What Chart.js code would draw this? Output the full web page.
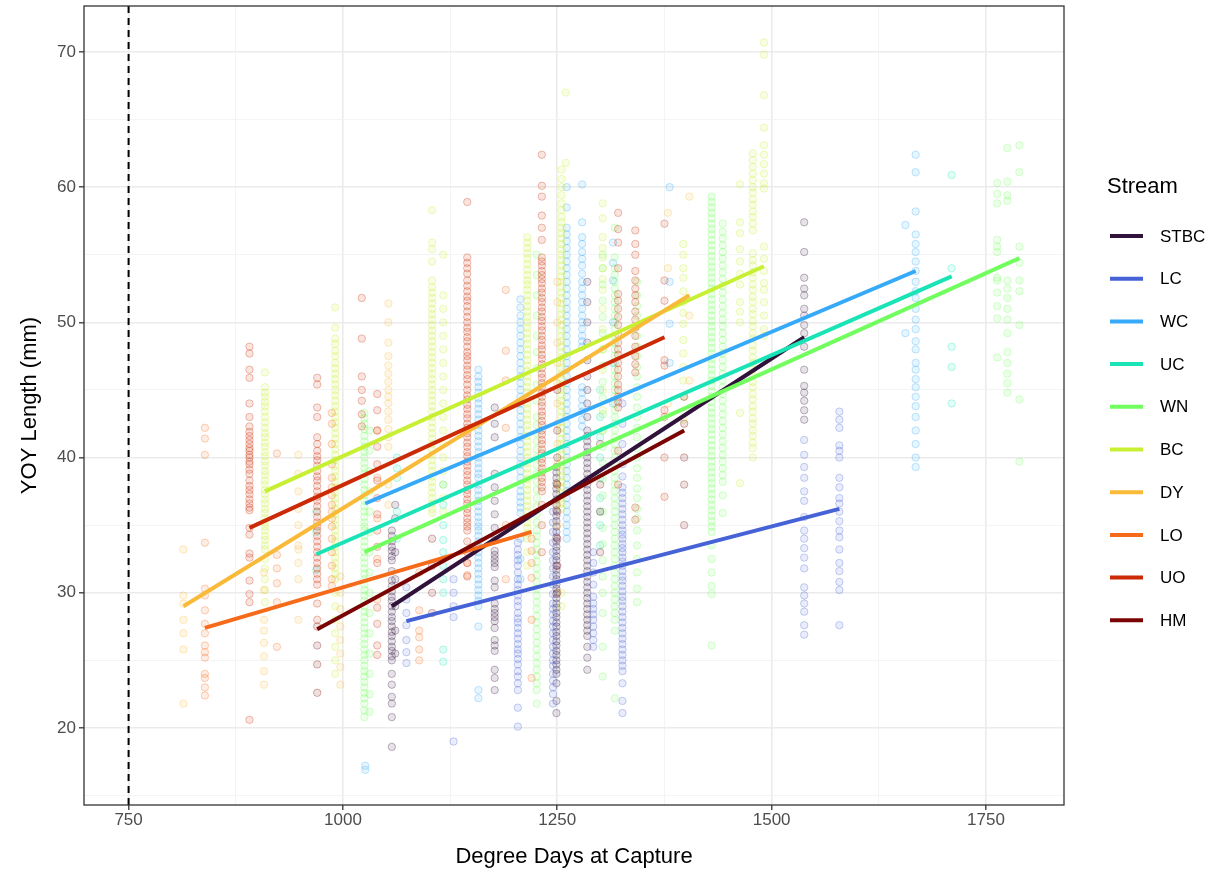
<!DOCTYPE html>
<html>
<head>
<meta charset="utf-8">
<title>YOY Length vs Degree Days</title>
<script src="https://cdn.jsdelivr.net/npm/chart.js@4.4.1/dist/chart.umd.min.js"></script>
<style>
  html, body { margin: 0; padding: 0; background: #ffffff; }
  #wrap { width: 1230px; height: 875px; }
</style>
</head>
<body>
<div id="wrap"><canvas id="chart" width="1230" height="875"></canvas></div>
<script>
// Streams in legend order and their turbo palette colours
const STREAMS = ['STBC', 'LC', 'WC', 'UC', 'WN', 'BC', 'DY', 'LO', 'UO', 'HM'];
const COLORS = ['#30123B', '#4662D7', '#36AAF9', '#1AE4B6', '#72FE5E', '#C7EF34', '#FABA39', '#F66B19', '#CB2A04', '#7A0403'];

// Fish lengths (mm) per sampling event: [degree days, [lengths...]]
const STBC = [
  [1057, [34.6, 34.2, 33.8, 33.4, 33.1, 32.7, 32.4, 31.6, 30.9, 30.5, 30.1, 29.7, 29.4, 29.0, 28.6, 28.2, 27.9, 27.5, 27.1, 26.8, 26.4, 26.0, 25.7, 25.3, 25.0, 24.0, 23.2, 22.3, 21.8, 20.8, 18.6]],
  [1061, [36.5, 35.5, 33.0, 31.0, 29.0, 27.2, 25.5]],
  [1177, [43.7, 42.5, 41.5, 38.8, 37.8, 36.8, 35.8, 34.8, 33.9, 33.1, 32.8, 32.5, 32.2, 31.9, 30.9, 30.4, 29.2, 28.8, 28.5, 28.2, 27.9, 27.4, 26.5, 26.1, 25.7, 24.3, 23.7, 22.8]],
  [1249, [39.3, 38.9, 38.5, 38.1, 37.7, 37.3, 36.9, 36.5, 36.1, 35.7, 35.3, 34.9, 34.5, 34.1, 33.8, 33.4, 33.1, 32.7, 32.4, 32.0, 31.7, 31.3, 31.0, 30.6, 30.3, 29.9, 29.6, 29.2, 28.9, 28.5, 28.2, 27.8, 27.5, 27.1, 26.8, 26.4, 26.1, 25.7, 25.4, 25.0, 24.7, 24.3, 24.0, 23.3, 22.0, 21.1]],
  [1285, [53.0, 51.5, 50.0, 48.5, 47.2, 46.0, 45.0, 44.0, 43.0, 42.0, 41.6, 41.2, 40.8, 40.4, 40.0, 39.6, 39.2, 38.8, 38.4, 38.0, 37.6, 37.2, 36.8, 36.4, 36.0, 35.6, 35.2, 34.8, 34.4, 34.0, 33.6, 33.2, 32.8, 32.4, 32.0, 31.6, 31.2, 30.8, 30.4, 30.0, 29.6, 29.2, 28.8, 28.4, 28.0, 27.6, 27.2, 26.8, 26.0, 25.2, 24.3]],
  [1538, [57.4, 55.2, 53.3, 52.5, 52.0, 51.0, 50.5, 49.8, 49.2, 48.2, 46.5, 45.3, 44.8, 44.2, 43.5, 42.8]]
];
const LC = [
  [1074, [30.4, 29.5, 28.5, 27.6, 26.5, 25.6, 24.8]],
  [1129, [31.0, 30.0, 29.0, 28.2, 19.0]],
  [1204, [33.7, 33.2, 32.8, 32.4, 32.0, 31.5, 31.0, 30.6, 30.2, 29.8, 29.4, 29.0, 28.5, 28.1, 27.8, 27.4, 27.0, 26.6, 26.2, 25.8, 25.5, 25.1, 24.7, 24.2, 23.8, 23.3, 22.8, 21.5, 20.1]],
  [1245, [36.0, 35.2, 34.5, 33.7, 33.0, 32.4, 31.8, 31.2, 30.6, 29.9, 29.2, 28.8, 28.4, 27.9, 27.5, 27.0, 26.5, 26.0, 25.5, 25.0, 24.6, 24.0, 23.5, 23.0, 22.5, 21.8]],
  [1292, [33.0, 32.2, 31.5, 30.6, 29.7, 29.2, 28.8, 28.4, 28.0, 27.5, 27.0, 26.5, 26.0]],
  [1326, [44.0, 42.5, 41.0, 39.5, 38.6, 37.8, 37.4, 37.0, 36.6, 36.2, 35.8, 35.4, 35.0, 34.6, 34.3, 34.0, 33.6, 33.3, 33.0, 32.6, 32.3, 32.0, 31.6, 31.2, 30.9, 30.5, 30.1, 29.7, 29.4, 29.0, 28.6, 28.2, 27.8, 27.4, 27.0, 26.6, 26.2, 25.8, 25.4, 25.0, 24.6, 24.2, 23.3, 22.0, 21.1]],
  [1538, [41.3, 40.2, 39.3, 38.5, 37.5, 36.8, 35.6, 34.6, 34.0, 33.3, 32.6, 31.8, 30.4, 29.8, 29.2, 28.6, 27.6, 26.9]],
  [1579, [43.4, 42.8, 42.2, 40.9, 40.5, 40.0, 38.5, 37.8, 37.0, 36.6, 36.0, 35.3, 34.6, 34.1, 33.2, 32.2, 31.6, 30.8, 30.2, 27.6]]
];
const WC = [
  [1026, [17.2, 16.9]],
  [1158, [46.5, 46.0, 45.6, 45.2, 44.8, 44.4, 44.0, 43.6, 43.2, 42.8, 42.4, 42.0, 41.6, 41.2, 40.8, 40.4, 40.0, 39.6, 39.2, 38.8, 38.5, 38.0, 37.6, 37.2, 36.8, 36.4, 36.0, 35.6, 35.2, 34.9, 34.6, 34.2, 33.8, 33.4, 33.0, 32.6, 32.2, 31.8, 31.4, 31.0, 30.6, 30.2, 29.8, 29.4, 29.0, 27.5, 22.8, 22.2]],
  [1207, [51.7, 51.1, 50.5, 50.0, 49.5, 49.0, 48.5, 48.0, 47.5, 47.0, 46.5, 46.0, 45.5, 45.0, 44.5, 44.0, 43.5, 43.0, 42.5, 42.0, 41.5, 41.0, 40.5, 40.0, 39.5, 39.0, 38.5, 38.0, 37.5, 37.1, 36.7, 36.3, 35.9, 34.0, 32.5, 31.0]],
  [1261, [60.0, 58.5, 57.0, 56.5, 56.0, 55.5, 55.0, 54.5, 54.0, 53.5, 53.0, 52.5, 52.0, 51.5, 51.0, 50.5, 50.0, 49.5, 49.0, 48.5, 48.0, 47.5, 47.0, 46.5, 46.0, 45.5, 45.0, 44.5, 44.0, 43.5, 43.0, 42.5, 42.0, 41.5, 41.0, 40.5, 40.0, 39.5, 39.0, 38.5, 38.0, 37.5, 37.0, 36.5, 36.0, 35.5, 35.0, 34.5, 34.0]],
  [1279, [60.2, 57.4, 56.3, 55.8, 55.2, 54.7, 54.2, 53.6, 53.0, 52.5, 52.0, 51.5, 51.0, 50.5, 50.0, 49.5, 49.0, 48.6, 48.2, 45.2, 44.8, 44.3, 43.8, 43.4, 42.8, 42.3]],
  [1315, [55.9, 54.4, 53.1, 50.0, 47.0, 44.0]],
  [1381, [60.0, 53.0, 49.9, 47.0]],
  [1656, [57.2, 49.2]],
  [1668, [62.4, 61.1, 58.2, 56.5, 55.8, 55.2, 54.5, 53.8, 53.0, 52.3, 51.8, 51.0, 50.2, 49.5, 48.6, 48.0, 47.0, 46.5, 45.8, 45.2, 44.5, 43.8, 43.0, 42.0, 41.0, 40.0, 39.3]]
];
const UC = [
  [969, [36.0, 34.5, 31.7]],
  [1063, [40.0, 39.2, 38.5, 36.0, 34.0]],
  [1117, [38.0, 36.5, 35.0, 33.9, 33.0, 32.0, 31.0, 30.0, 25.8, 24.9]],
  [1300, [45.0, 43.0, 41.5, 40.0, 38.5, 37.0, 36.0, 35.0, 33.5]],
  [1710, [60.9, 54.0, 48.2, 46.7, 44.0]]
];
const WN = [
  [1025, [43.3, 42.9, 42.5, 42.1, 41.6, 41.2, 40.8, 40.4, 40.0, 39.6, 39.2, 38.8, 38.4, 38.0, 37.6, 37.2, 36.8, 36.4, 36.0, 35.6, 35.2, 34.9, 34.6, 34.2, 33.8, 33.4, 33.0, 32.6, 32.2, 31.8, 31.4, 31.0, 30.6, 30.2, 29.8, 29.4, 29.0, 28.6, 28.2, 27.8, 27.4, 27.0, 26.6, 26.2, 25.8, 25.4, 25.0, 24.6, 24.2, 23.8, 23.4, 23.0, 22.6, 22.2, 21.8, 21.3, 20.8]],
  [1031, [42.0, 40.5, 39.0, 37.5, 36.0, 34.5, 33.0, 31.5, 30.0, 28.5, 27.0, 25.5, 24.0, 22.5, 21.2]],
  [1226, [55.0, 53.5, 52.0, 50.5, 49.0, 47.8, 46.6, 45.4, 44.2, 43.0, 42.4, 41.8, 41.2, 40.6, 40.0, 39.4, 38.8, 38.2, 37.6, 37.0, 36.4, 35.8, 35.2, 34.6, 34.2, 33.7, 33.2, 32.8, 32.3, 31.8, 31.3, 30.8, 30.3, 29.8, 29.3, 28.8, 28.3, 27.8, 27.3, 26.8, 26.3, 25.8, 25.3, 24.8, 24.3, 23.8, 23.3, 22.8, 21.8]],
  [1303, [55.0, 54.0, 52.8, 51.6, 50.4, 49.2, 48.0, 46.8, 45.6, 44.4, 43.2, 42.0, 40.8, 39.6, 38.4, 37.2, 36.0, 34.8, 33.6, 32.4, 31.2, 30.0, 28.5, 26.0, 23.8]],
  [1317, [57.0, 54.8, 54.0, 53.5, 53.0, 52.5, 52.0, 51.5, 51.0, 50.5, 50.0, 49.5, 49.0, 48.5, 48.0, 47.5, 47.0, 46.5, 46.0, 45.5, 45.0, 44.5, 44.0, 43.5, 43.0, 42.5, 42.0, 41.5, 41.0, 40.5, 40.0, 39.5, 39.0, 38.5, 38.0, 37.5, 37.0, 36.5, 36.0, 35.5, 35.0, 34.5, 34.0, 33.5, 33.0, 32.5, 32.0, 31.5, 31.0, 30.5, 30.0, 29.5, 29.0, 28.5, 28.0, 27.2, 22.2]],
  [1343, [53.0, 52.0, 51.2, 50.5, 49.7, 49.0, 48.2, 47.5, 46.7, 46.0, 45.2, 44.5, 43.7, 43.0, 42.2, 41.5, 40.7, 40.0, 39.2, 38.5, 37.7, 37.0, 36.2, 35.5, 34.6, 33.5, 32.5, 31.5, 30.3, 29.3]],
  [1430, [59.3, 58.9, 58.5, 58.1, 57.7, 57.3, 56.9, 56.5, 56.1, 55.7, 55.3, 54.9, 54.5, 54.1, 53.7, 53.3, 52.9, 52.5, 52.1, 51.7, 51.3, 50.9, 50.5, 50.1, 49.7, 49.3, 48.9, 48.5, 48.1, 47.7, 47.3, 46.9, 46.5, 46.1, 45.7, 45.3, 44.9, 44.5, 44.1, 43.7, 43.3, 42.9, 42.5, 42.1, 41.7, 41.3, 40.9, 40.5, 40.1, 39.7, 39.3, 38.9, 38.5, 38.1, 37.7, 37.3, 36.9, 36.5, 36.1, 35.7, 35.3, 34.9, 34.5, 33.5, 32.5, 31.5, 30.5, 29.9, 26.1]],
  [1443, [57.3, 56.7, 56.2, 55.7, 55.2, 54.7, 54.2, 53.7, 53.2, 52.7, 52.2, 51.7, 51.2, 50.7, 50.2, 49.7, 49.2, 48.7, 48.2, 47.7, 47.2, 46.7, 46.2, 45.7, 45.2, 44.7, 44.2, 43.7, 43.2, 42.7, 42.2, 41.7, 41.2, 40.7, 40.2, 39.7, 39.2, 38.7, 38.2, 37.2, 35.9]],
  [1763, [60.3, 59.5, 58.8, 56.1, 55.6, 55.2, 53.3, 53.1, 52.2, 51.2, 50.3, 47.4]],
  [1775, [62.9, 60.4, 59.4, 59.0, 53.1, 52.5, 51.8, 51.0, 50.2, 49.2, 47.8, 47.0, 46.2, 45.5, 44.8]],
  [1789, [63.1, 61.1, 55.6, 54.4, 53.1, 52.3, 49.8, 44.3, 39.7]]
];
const BC = [
  [909, [46.3, 45.2, 44.8, 44.5, 44.1, 43.8, 43.4, 43.0, 42.6, 42.2, 41.8, 41.5, 41.1, 40.8, 40.4, 40.1, 39.7, 39.4, 39.0, 38.7, 38.3, 38.0, 37.6, 37.3, 36.9, 36.6, 36.2, 35.9, 35.5, 35.2, 34.9, 34.6, 34.2, 33.9, 33.5, 33.2, 32.5, 31.8, 31.0, 30.2, 29.3]],
  [991, [51.1, 49.6, 48.8, 48.4, 47.9, 47.5, 47.0, 46.6, 46.2, 45.8, 45.4, 45.0, 44.6, 44.2, 43.8, 43.4, 43.0, 42.6, 42.2, 41.8, 41.4, 41.0, 40.6, 40.2, 39.8, 39.4, 39.0, 38.6, 38.2, 37.8, 37.4, 37.0, 36.6, 36.2, 35.8, 35.4, 35.0, 34.6, 34.2, 33.8, 33.4, 33.0, 32.6, 32.2, 31.8, 31.4, 31.0, 30.0, 29.0, 28.0, 27.0, 26.0, 25.0, 24.0]],
  [1104, [58.3, 55.9, 55.4, 54.5, 53.1, 52.6, 52.2, 51.8, 51.4, 51.0, 50.6, 50.2, 49.8, 49.4, 49.0, 48.6, 48.2, 47.8, 47.4, 47.0, 46.6, 46.2, 45.8, 45.4, 45.0, 44.6, 44.2, 43.8, 43.4, 43.0, 42.6, 42.2, 41.8, 41.4, 41.0, 40.6, 40.2, 39.8, 39.4, 39.0, 38.6, 38.2, 37.8, 37.4, 37.0, 36.6, 36.2, 35.9]],
  [1117, [55.0, 52.0, 51.0, 50.0, 49.0, 48.0, 47.0, 46.0, 45.0, 44.0, 43.0, 42.0, 41.0, 40.0, 39.0, 38.0, 37.0, 36.0]],
  [1215, [56.3, 55.9, 55.5, 55.1, 54.7, 54.3, 53.9, 53.5, 53.1, 52.8, 52.4, 52.0, 51.6, 51.2, 50.8, 50.4, 50.0, 49.6, 49.2, 48.8, 48.4, 48.0, 47.6, 47.2, 46.8, 46.4, 46.0, 45.6, 45.2, 44.8, 44.4, 44.0, 43.6, 43.2, 42.8, 42.4, 42.0, 41.6, 41.2, 40.8, 40.4, 40.0, 39.6, 39.2, 38.8, 38.4, 38.0, 37.6, 37.2, 36.8, 36.4, 36.0, 35.6, 35.2, 34.8, 34.4, 34.0, 33.0, 32.0]],
  [1255, [61.3, 60.6, 60.0, 59.4, 58.8, 58.3, 57.8, 57.4, 57.0, 56.6, 56.2, 55.8, 55.4, 55.0, 54.6, 54.2, 53.8, 53.4, 53.0, 52.6, 52.2, 51.8, 51.4, 51.0, 50.6, 50.2, 49.8, 49.4, 49.0, 48.6, 48.2, 47.8, 47.4, 47.0, 46.6, 46.2, 45.8, 45.4, 45.0, 44.6, 44.2, 43.8, 43.4, 43.0, 42.6, 42.2, 41.8, 41.4, 41.0, 40.6, 40.2, 39.8, 39.4, 39.0, 38.6, 38.2, 37.8, 37.4, 37.0, 36.6, 36.2, 30.0, 29.0]],
  [1260, [67.0, 61.8]],
  [1303, [58.8, 57.7, 56.3, 55.5, 54.8, 54.0, 53.2, 52.4, 51.0, 49.5, 48.0, 46.5, 45.0, 43.5, 42.0]],
  [1397, [55.8, 55.0, 54.0, 53.3, 52.3, 51.5, 50.7, 49.9, 48.7, 47.7, 46.7, 45.7, 44.5, 42.8]],
  [1463, [60.2, 57.4, 56.6, 55.4, 54.5, 53.6, 52.8, 51.5, 50.8, 50.0, 43.3, 38.1]],
  [1478, [62.5, 62.0, 61.5, 61.0, 60.5, 60.0, 59.6, 59.1, 58.7, 58.2, 57.8, 57.3, 56.8, 55.1, 54.6, 54.2, 53.7, 53.3, 52.8, 52.4, 51.9, 51.5, 51.0, 50.6, 50.1, 49.7, 49.2, 48.8, 48.3, 47.9, 47.4, 47.0, 46.5, 46.1, 45.6, 45.2, 44.7, 44.3, 43.8, 43.4, 42.9, 42.5, 42.0, 41.6, 41.1, 40.7, 40.0]],
  [1491, [70.7, 69.8, 66.8, 64.4, 63.1, 62.4, 61.7, 61.0, 60.3, 59.9, 55.6, 54.7, 53.8, 52.9, 52.4, 51.5, 50.5, 49.5, 49.0]]
];
const DY = [
  [814, [33.2, 29.8, 29.2, 28.0, 27.0, 25.8, 21.8]],
  [908, [31.5, 30.2, 28.0, 27.2, 26.3, 25.3, 24.2, 23.2]],
  [948, [40.2, 38.8, 37.5, 36.2, 35.0, 33.5, 33.2, 32.2, 31.0, 28.0]],
  [997, [31.2, 30.0, 28.8, 27.5, 26.5, 25.5, 24.5, 23.2]],
  [1053, [51.4, 50.0, 48.5, 47.5, 46.8, 46.2, 45.6, 45.0, 44.5, 44.0, 43.4, 42.8, 42.1, 41.5, 40.8, 38.0, 36.5]],
  [1250, [53.0, 51.5, 50.0, 48.5, 47.0, 45.5, 44.0, 42.5, 41.0, 39.5, 38.0, 36.5, 35.0]],
  [1379, [58.1, 54.0, 44.0]],
  [1404, [59.3, 50.5, 45.7]]
];
const LO = [
  [839, [42.2, 41.4, 40.2, 33.7, 30.3, 29.8, 28.7, 27.7, 27.0, 26.1, 25.6, 25.2, 24.0, 23.7, 23.0, 22.4]],
  [923, [40.3, 32.8, 31.8, 30.7, 29.3, 26.0]],
  [987, [43.3, 42.5, 41.0, 39.5, 38.5, 37.8, 37.2, 36.5, 36.0, 35.5, 34.9, 34.0, 33.0, 32.0, 31.0, 30.5]],
  [1040, [42.0, 38.5, 35.5, 32.5, 29.5]],
  [1089, [31.5, 28.7, 27.2, 26.7, 25.8, 25.0]],
  [1145, [32.2, 31.3]],
  [1190, [52.4, 47.9, 45.7, 42.2, 35.0, 31.0]],
  [1220, [34.0, 33.1, 32.2, 31.1, 28.0, 23.7]]
];
const UO = [
  [891, [48.2, 47.7, 46.5, 45.9, 44.0, 43.0, 42.3, 41.9, 41.6, 41.3, 41.0, 40.7, 40.5, 40.2, 40.0, 39.7, 39.5, 39.1, 38.8, 38.3, 37.9, 37.6, 37.3, 36.9, 36.6, 36.3, 36.1, 34.8, 34.3, 32.9, 32.6, 30.9, 29.9, 29.3, 20.6]],
  [970, [45.9, 45.4, 43.7, 43.0, 41.5, 41.0, 40.5, 40.1, 39.8, 39.4, 39.0, 38.6, 38.3, 37.9, 37.5, 37.1, 36.8, 36.4, 36.0, 35.6, 35.2, 34.9, 34.6, 34.2, 33.8, 33.4, 33.0, 32.6, 32.2, 31.8, 31.4, 31.0, 30.6, 29.2, 28.0]],
  [1022, [51.8, 48.8, 46.0, 45.0, 44.2, 43.2, 42.3]],
  [1040, [44.7, 43.5, 42.0, 40.8, 39.5, 38.3, 37.0, 35.8, 34.6, 33.4, 32.2, 28.9, 27.7, 26.1, 25.4]],
  [1145, [58.9, 54.8, 54.4, 54.0, 53.6, 53.1, 52.7, 52.3, 51.9, 51.6, 51.2, 50.8, 50.4, 50.0, 49.6, 49.3, 48.9, 48.6, 48.2, 47.8, 47.5, 47.2, 46.8, 46.5, 46.1, 45.8, 45.4, 45.0, 44.6, 44.3, 43.9, 43.6, 43.2, 42.9, 42.5, 42.2, 41.8, 41.5, 41.1, 40.8, 40.4, 40.1, 39.7, 39.4, 39.0, 38.7, 38.3, 38.0, 37.6, 37.3, 36.9, 36.6, 36.2, 35.9, 35.5, 35.2, 34.9, 34.6, 33.8, 33.0, 32.2, 31.2]],
  [1232, [62.4, 60.1, 59.3, 57.9, 57.0, 56.1, 54.8, 54.5, 54.2, 53.8, 53.5, 53.2, 52.9, 52.5, 52.2, 51.8, 51.5, 51.1, 50.8, 50.4, 50.1, 49.7, 49.4, 49.0, 48.7, 48.3, 48.0, 47.6, 47.3, 46.9, 46.6, 46.2, 45.9, 45.5, 45.2, 44.8, 44.5, 44.1, 43.8, 43.4, 43.1, 42.7, 42.4, 42.0, 41.7, 41.3, 41.0, 40.6, 40.3, 39.9, 39.6, 39.2, 38.9, 38.5, 38.2, 37.8, 37.5, 36.5, 35.0, 33.0]],
  [1321, [58.1, 56.9, 55.9, 54.0, 52.1, 51.6, 51.0, 50.4, 49.8, 49.1, 48.5, 48.0, 47.6, 47.0, 46.5, 46.0, 45.4, 45.0, 44.5, 44.1, 43.7, 40.5, 38.0]],
  [1341, [56.8, 55.8, 55.0, 53.8, 53.1, 52.5, 52.0, 51.5, 50.8, 50.2, 49.6, 49.0, 48.2, 47.5, 46.9, 46.3, 36.3, 35.4]],
  [1375, [57.3, 53.1, 51.6, 47.2, 46.8, 43.5, 43.0, 40.0, 37.1]]
];
const HM = [
  [970, [27.5, 26.1, 24.7, 22.6]],
  [1104, [34.0, 32.0, 30.0, 28.5]],
  [1250, [45.0, 42.0, 40.0, 38.0, 36.0, 34.0, 32.0, 30.0]],
  [1300, [41.0, 38.0, 36.0, 33.0]],
  [1398, [44.5, 42.5, 40.0, 38.0, 35.0]]
];
const SAMPLES = [STBC, LC, WC, UC, WN, BC, DY, LO, UO, HM];

// Linear fit end points for each stream (same order as STREAMS)
const FIT_X0 = [1057, 1074, 1026, 969, 1025, 909, 814, 839, 891, 970];
const FIT_Y0 = [29.0, 27.9, 36.6, 32.85, 33.0, 37.5, 29.0, 27.4, 34.8, 27.3];
const FIT_X1 = [1538, 1579, 1668, 1710, 1789, 1491, 1404, 1220, 1375, 1398];
const FIT_Y1 = [48.9, 36.2, 53.8, 53.4, 54.75, 54.15, 52.0, 34.5, 48.9, 42.0];

// Axis ticks
const X_MAJOR = [750, 1000, 1250, 1500, 1750];
const X_MINOR = [875, 1125, 1375, 1625];
const Y_MAJOR = [20, 30, 40, 50, 60, 70];
const Y_MINOR = [15, 25, 35, 45, 55, 65];
const X_LIMITS = [698, 1841];
const Y_LIMITS = [14.3, 73.4];
const VLINE_X = 750;

const FONT = '"Liberation Sans", Arial, Helvetica, sans-serif';

function rgba(hex, a) {
  const n = parseInt(hex.slice(1), 16);
  return `rgba(${(n >> 16) & 255}, ${(n >> 8) & 255}, ${n & 255}, ${a})`;
}

const datasets = [];

// Raw observations, drawn underneath the fitted lines
SAMPLES.forEach((cols, i) => {
  const pts = [];
  cols.forEach(([x, ys]) => ys.forEach(y => pts.push({ x, y })));
  datasets.push({
    type: 'scatter',
    label: STREAMS[i] + ' obs',
    data: pts,
    pointRadius: 3.7,
    pointBorderWidth: 1,
    pointBackgroundColor: rgba(COLORS[i], 0.12),
    pointBorderColor: rgba(COLORS[i], 0.3),
    order: 200 - i
  });
});

// Fitted lines per stream
STREAMS.forEach((s, i) => {
  datasets.push({
    type: 'line',
    label: s,
    data: [{ x: FIT_X0[i], y: FIT_Y0[i] }, { x: FIT_X1[i], y: FIT_Y1[i] }],
    borderColor: COLORS[i],
    borderWidth: 4,
    pointRadius: 0,
    fill: false,
    tension: 0,
    borderCapStyle: 'butt',
    order: 20 - i
  });
});

// Reference line at 750 degree days
datasets.push({
  type: 'line',
  label: 'ref',
  data: [{ x: VLINE_X, y: Y_LIMITS[0] }, { x: VLINE_X, y: Y_LIMITS[1] }],
  borderColor: '#000000',
  borderWidth: 2,
  borderDash: [7, 5],
  pointRadius: 0,
  fill: false,
  order: 0
});

const isMajor = (list, v) => list.some(m => Math.abs(m - v) < 1e-6);

// Panel border on top of everything, plus the legend at the right
const panelBorder = {
  id: 'panelBorder',
  afterDraw(chart) {
    const { ctx, chartArea: a } = chart;
    ctx.save();
    ctx.strokeStyle = '#333333';
    ctx.lineWidth = 1.3;
    ctx.strokeRect(a.left, a.top, a.right - a.left, a.bottom - a.top);
    ctx.restore();
  }
};

const streamLegend = {
  id: 'streamLegend',
  afterDraw(chart) {
    const ctx = chart.ctx;
    ctx.save();
    ctx.fillStyle = '#000000';
    ctx.textBaseline = 'middle';
    ctx.textAlign = 'left';
    ctx.font = '22px ' + FONT;
    ctx.fillText('Stream', 1107, 187);
    STREAMS.forEach((s, i) => {
      const y = 236 + i * 42.7;
      ctx.strokeStyle = COLORS[i];
      ctx.lineWidth = 4;
      ctx.beginPath();
      ctx.moveTo(1110, y);
      ctx.lineTo(1143, y);
      ctx.stroke();
      ctx.fillStyle = '#000000';
      ctx.font = '17px ' + FONT;
      ctx.fillText(s, 1160, y + 1);
    });
    ctx.restore();
  }
};

// Keep the panel exactly where the layout padding and fixed axis sizes put it
function noLabelPadding(s) {
  s.paddingTop = 0;
  s.paddingBottom = 0;
  s.paddingLeft = 0;
  s.paddingRight = 0;
}

new Chart(document.getElementById('chart'), {
  type: 'scatter',
  data: { datasets },
  options: {
    responsive: false,
    animation: false,
    devicePixelRatio: 1,
    layout: { padding: { top: 6, right: 166, bottom: 0, left: 0 } },
    plugins: {
      legend: { display: false },
      tooltip: { enabled: false }
    },
    scales: {
      x: {
        type: 'linear',
        min: X_LIMITS[0],
        max: X_LIMITS[1],
        afterBuildTicks: s => { s.ticks = [...X_MAJOR, ...X_MINOR].sort((a, b) => a - b).map(v => ({ value: v })); },
        afterFit: s => { s.height = 70; noLabelPadding(s); },
        ticks: {
          autoSkip: false,
          maxRotation: 0,
          padding: 0,
          color: '#4D4D4D',
          font: { family: FONT, size: 17 },
          callback: v => isMajor(X_MAJOR, v) ? String(v) : ''
        },
        grid: {
          color: c => c.tick && isMajor(X_MAJOR, c.tick.value) ? '#EBEBEB' : '#F3F3F3',
          lineWidth: c => c.tick && isMajor(X_MAJOR, c.tick.value) ? 1.6 : 0.9,
          tickColor: c => c.tick && isMajor(X_MAJOR, c.tick.value) ? '#333333' : 'rgba(0,0,0,0)',
          tickLength: 5,
          tickWidth: 1.3
        },
        border: { display: false },
        title: {
          display: true,
          text: 'Degree Days at Capture',
          color: '#000000',
          font: { family: FONT, size: 22 },
          padding: { top: 0, bottom: 5 }
        }
      },
      y: {
        type: 'linear',
        min: Y_LIMITS[0],
        max: Y_LIMITS[1],
        afterBuildTicks: s => { s.ticks = [...Y_MAJOR, ...Y_MINOR].sort((a, b) => a - b).map(v => ({ value: v })); },
        afterFit: s => { s.width = 84; noLabelPadding(s); },
        ticks: {
          autoSkip: false,
          padding: 3,
          color: '#4D4D4D',
          font: { family: FONT, size: 17 },
          callback: v => isMajor(Y_MAJOR, v) ? String(v) : ''
        },
        grid: {
          color: c => c.tick && isMajor(Y_MAJOR, c.tick.value) ? '#EBEBEB' : '#F3F3F3',
          lineWidth: c => c.tick && isMajor(Y_MAJOR, c.tick.value) ? 1.6 : 0.9,
          tickColor: c => c.tick && isMajor(Y_MAJOR, c.tick.value) ? '#333333' : 'rgba(0,0,0,0)',
          tickLength: 5,
          tickWidth: 1.3
        },
        border: { display: false },
        title: {
          display: true,
          text: 'YOY Length (mm)',
          color: '#000000',
          font: { family: FONT, size: 22 },
          padding: { top: 17, bottom: 0 }
        }
      }
    }
  },
  plugins: [panelBorder, streamLegend]
});
</script>
</body>
</html>
